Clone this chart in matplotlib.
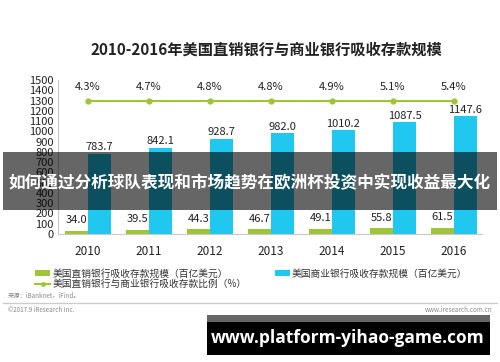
import matplotlib
matplotlib.use('Agg')
import matplotlib.pyplot as plt
from matplotlib.patches import Rectangle
from matplotlib.lines import Line2D
import numpy as np

plt.rcParams['font.family'] = ['Noto Sans CJK SC', 'DejaVu Sans']

years = ['2010', '2011', '2012', '2013', '2014', '2015', '2016']
direct = [34.0, 39.5, 44.3, 46.7, 49.1, 55.8, 61.5]          # 美国直销银行 (百亿美元)
commercial = [783.7, 842.1, 928.7, 982.0, 1010.2, 1087.5, 1147.6]  # 美国商业银行 (百亿美元)
ratio = [4.3, 4.7, 4.8, 4.8, 4.9, 5.1, 5.4]                   # 比例 (%)
yticks = list(range(0, 1600, 100))

GREEN = '#9fc43a'
BLUE = '#20c7ef'
W, H = 500, 362
LINE_LEVEL = 1300  # ratio line is drawn flat at this height

fig = plt.figure(figsize=(5, 3.62), dpi=100)
fig.patch.set_facecolor('white')

def fx(px):
    return px / W

def fy(py):
    return 1 - py / H

ax = fig.add_axes([fx(58), fy(234), fx(482) - fx(58), fy(80) - fy(234)])
x = np.arange(len(years))
bw = 0.38

b1 = ax.bar(x - bw / 2, direct, bw, color=GREEN, zorder=2)
b2 = ax.bar(x + bw / 2, commercial, bw, color=BLUE, zorder=2)
ln, = ax.plot(x, [LINE_LEVEL] * len(x), color=GREEN, lw=1.5, marker='o', ms=3.5, zorder=3)

for xi, v in zip(x, direct):
    ax.annotate(f'{v:.1f}', (xi - bw / 2, v), xytext=(0, 4), textcoords='offset points',
                ha='center', va='bottom', fontsize=8, color='#222222')
for xi, v in zip(x, commercial):
    ax.annotate(f'{v:.1f}', (xi + bw / 2, v), xytext=(0, 1), textcoords='offset points',
                ha='center', va='bottom', fontsize=8, color='#222222')
for xi, r in zip(x, ratio):
    ax.annotate(f'{r:.1f}%', (xi, LINE_LEVEL), xytext=(0, 10), textcoords='offset points',
                ha='center', va='center', fontsize=8, color='#222222')

ax.set_xlim(-0.49, 6.46)
ax.set_ylim(0, 1500)
ax.set_yticks(yticks)
ax.set_yticklabels([str(t) for t in yticks], fontsize=8, color='#222222')
ax.set_xticks(x)
ax.set_xticklabels(years, fontsize=8.5, color='#222222')
ax.tick_params(length=0, pad=3)
ax.tick_params(axis='x', pad=8)
for s in ['top', 'right']:
    ax.spines[s].set_visible(False)
for s in ['left', 'bottom']:
    ax.spines[s].set_color('#c8c8c8')
ax.set_facecolor('none')

fig.text(fx(266), fy(50), '2010-2016年美国直销银行与商业银行吸收存款规模',
         ha='center', va='center', fontsize=11, fontweight='bold', color='#222222')

handles = [b1, Line2D([], [], color=GREEN, lw=1.5, marker='o', ms=2.5), b2]
labels = ['美国直销银行吸收存款规模（百亿美元）',
          '美国直销银行与商业银行吸收存款比例（%）',
          '美国商业银行吸收存款规模（百亿美元）']
fig.legend(handles, labels, ncol=2, loc='upper left', bbox_to_anchor=(fx(26), fy(260)),
           frameon=False, fontsize=7, handlelength=1.6, handleheight=0.6,
           handletextpad=0.2, columnspacing=2.9, labelspacing=0.05,
           labelcolor='#333333')

fig.text(fx(8), fy(296), '来源：iBanknet，iFind。', fontsize=4.5, color='#888888',
         ha='left', va='center')
fig.add_artist(Line2D([fx(3), fx(497)], [fy(303), fy(303)], color='#cccccc', lw=1,
                      transform=fig.transFigure))
fig.text(fx(8), fy(310), '©2017.9 iResearch Inc.', fontsize=4.5, color='#888888',
         ha='left', va='center')
fig.text(fx(492), fy(310), 'www.iresearch.com.cn', fontsize=4.5, color='#888888',
         ha='right', va='center')

# overlay banner
fig.add_artist(Rectangle((fx(3), fy(210)), fx(497) - fx(3), fy(152) - fy(210),
                         transform=fig.transFigure, color='black', alpha=0.6, lw=0, zorder=10))
fig.text(fx(250), fy(183), '如何通过分析球队表现和市场趋势在欧洲杯投资中实现收益最大化',
         ha='center', va='center', fontsize=12.0, fontweight='bold', color='white', zorder=11)

# bottom watermark
fig.add_artist(Rectangle((fx(207), fy(322)), fx(490) - fx(207), fy(315) - fy(322),
                         transform=fig.transFigure, color='#666666', lw=0, zorder=10))
fig.add_artist(Rectangle((fx(207), fy(355)), fx(490) - fx(207), fy(322) - fy(355),
                         transform=fig.transFigure, color='black', lw=0, zorder=10))
fig.text(fx(348), fy(338), 'www.platform-yihao-game.com', ha='center', va='center',
         fontsize=12.5, fontweight='bold', color='white', family='Open Sans', zorder=11)

fig.savefig('out.png', dpi=100)
